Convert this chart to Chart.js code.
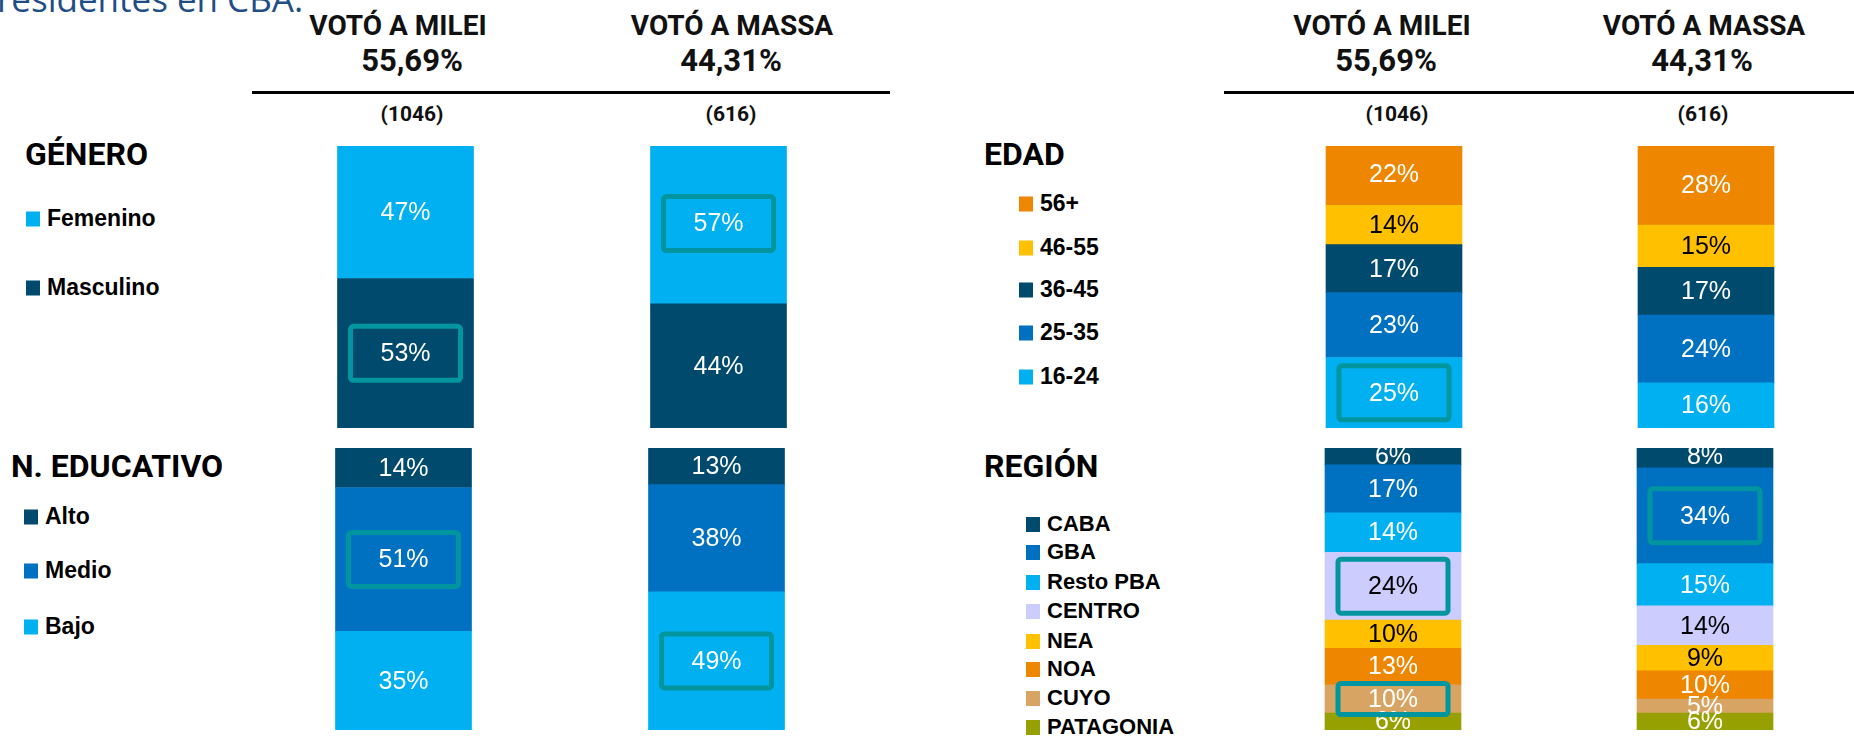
<!DOCTYPE html>
<html>
<head>
<meta charset="utf-8">
<script src="https://cdn.jsdelivr.net/npm/chart.js@4.4.0/dist/chart.umd.min.js"></script>
<style>
  body { margin: 0; background: #fff; }
  #page { position: relative; width: 1854px; height: 738px; overflow: hidden; background: #fff; font-family: "Liberation Sans", Arial, sans-serif; }
  canvas { position: absolute; }
  .t { position: absolute; white-space: nowrap; transform: translate(-50%, -50%); }
  .cand { font-family: Roboto, sans-serif; font-weight: 700; font-size: 28px; color: #111; }
  .num { font-family: Roboto, sans-serif; font-weight: 700; font-size: 31px; color: #111; }
  .n { font-family: Roboto, sans-serif; font-weight: 700; font-size: 21px; color: #111; }
  .sec { position: absolute; font-family: Roboto, sans-serif; font-weight: 700; font-size: 32px; color: #000; transform: translateY(-50%); white-space: nowrap; }
  .leg { position: absolute; font-weight: 700; font-size: 23px; color: #000; transform: translateY(-50%); white-space: nowrap; }
  .leg i { display: inline-block; width: 14px; height: 15px; margin-right: 7px; vertical-align: -1px; }
  .rule { position: absolute; height: 3px; background: #000; }
  #titulo { position: absolute; left: -3px; top: -25px; font-family: "Open Sans", sans-serif; font-size: 35px; color: #1f4e86; white-space: nowrap; }
</style>
</head>
<body>
<div id="page">
  <div id="titulo">residentes en CBA.</div>
</div>
<script>
// datos
const candidatos = ["VOTÓ A MILEI", "VOTÓ A MASSA"];
const totales = ["55,69%", "44,31%"];
const casos = ["(1046)", "(616)"];

const generoCats = ["Femenino", "Masculino"];
const generoMilei = [47, 53];
const generoMassa = [57, 44];

const educCats = ["Alto", "Medio", "Bajo"];
const educMilei = [14, 51, 35];
const educMassa = [13, 38, 49];

const edadCats = ["56+", "46-55", "36-45", "25-35", "16-24"];
const edadMilei = [22, 14, 17, 23, 25];
const edadMassa = [28, 15, 17, 24, 16];

const regionCats = ["CABA", "GBA", "Resto PBA", "CENTRO", "NEA", "NOA", "CUYO", "PATAGONIA"];
const regionMilei = [6, 17, 14, 24, 10, 13, 10, 6];
const regionMassa = [8, 34, 15, 14, 9, 10, 5, 6];

// segmentos marcados con recuadro: [categoria, candidato]
const generoMarca = [["Masculino", 0], ["Femenino", 1]];
const educMarca = [["Medio", 0], ["Bajo", 1]];
const edadMarca = [["16-24", 0]];
const regionMarca = [["CENTRO", 0], ["CUYO", 0], ["GBA", 1]];

// colores
const colores = {
  "Femenino": "#00b0f0", "Masculino": "#004a6e",
  "Alto": "#004a6e", "Medio": "#0070c0", "Bajo": "#00b0f0",
  "56+": "#ee8600", "46-55": "#ffc000", "36-45": "#004a6e", "25-35": "#0070c0", "16-24": "#00b0f0",
  "CABA": "#004a6e", "GBA": "#0070c0", "Resto PBA": "#00b0f0", "CENTRO": "#ccccff",
  "NEA": "#ffc000", "NOA": "#ee8600", "CUYO": "#d7a463", "PATAGONIA": "#96a000"
};
const textoOscuro = ["#ffc000", "#ccccff"];
const colorMarca = "#00959f";

const page = document.getElementById("page");

function addText(cls, txt, x, y) {
  const d = document.createElement("div");
  d.className = cls;
  d.textContent = txt;
  d.style.left = x + "px";
  d.style.top = y + "px";
  page.appendChild(d);
  return d;
}

// etiquetas y recuadros sobre las barras
const etiquetas = {
  id: "etiquetas",
  afterDatasetsDraw(chart) {
    const ctx = chart.ctx;
    const marcas = chart.options.plugins.etiquetas.marcas;
    ctx.save();
    chart.data.datasets.forEach((ds, i) => {
      const meta = chart.getDatasetMeta(i);
      meta.data.forEach((bar, j) => {
        const cy = (bar.y + bar.base) / 2;
        const esMarca = marcas.some(m => m[0] === ds.label && m[1] === j);
        if (esMarca) {
          const h = Math.min(59, Math.abs(bar.base - bar.y) + 8);
          const w = 115;
          ctx.strokeStyle = colorMarca;
          ctx.lineWidth = 5;
          ctx.beginPath();
          ctx.roundRect(bar.x - w / 2 + 2.5, cy - h / 2 + 2.5, w - 5, h - 5, 3);
          ctx.stroke();
        }
        ctx.fillStyle = textoOscuro.includes(ds.backgroundColor) ? "#000" : "#fff";
        ctx.font = "25px 'Liberation Sans', Arial, sans-serif";
        ctx.textAlign = "center";
        ctx.textBaseline = "middle";
        ctx.fillText(ds.data[j] + "%", bar.x, cy + 1);
      });
    });
    ctx.restore();
  }
};

function panel(cats, milei, massa, marcas, box) {
  const cv = document.createElement("canvas");
  cv.width = box.w; cv.height = box.h;
  cv.style.left = box.x + "px"; cv.style.top = box.y + "px";
  cv.style.width = box.w + "px"; cv.style.height = box.h + "px";
  page.appendChild(cv);
  // el primer dataset queda abajo
  const datasets = [];
  for (let k = cats.length - 1; k >= 0; k--) {
    datasets.push({
      label: cats[k],
      data: [milei[k], massa[k]],
      backgroundColor: colores[cats[k]],
      borderWidth: 0,
      barThickness: 136
    });
  }
  new Chart(cv.getContext("2d"), {
    type: "bar",
    data: { labels: candidatos, datasets: datasets },
    options: {
      responsive: false,
      animation: false,
      layout: { padding: 0 },
      plugins: { legend: { display: false }, tooltip: { enabled: false }, etiquetas: { marcas: marcas } },
      scales: {
        x: { stacked: true, display: false },
        y: { stacked: true, display: false, min: 0, max: 100 }
      }
    },
    plugins: [etiquetas]
  });
}

function leyenda(titulo, tx, ty, cats, lx, ys, size) {
  const s = document.createElement("div");
  s.className = "sec";
  s.textContent = titulo;
  s.style.left = tx + "px"; s.style.top = ty + "px";
  page.appendChild(s);
  cats.forEach((c, k) => {
    const d = document.createElement("div");
    d.className = "leg";
    d.style.left = lx + "px"; d.style.top = ys[k] + "px";
    d.style.fontSize = size + "px";
    d.innerHTML = '<i style="background:' + colores[c] + '"></i>' + c;
    page.appendChild(d);
  });
}

// encabezados
const rL = document.createElement("div"); rL.className = "rule";
rL.style.left = "252px"; rL.style.width = "638px"; rL.style.top = "91px"; page.appendChild(rL);
const rR = document.createElement("div"); rR.className = "rule";
rR.style.left = "1224px"; rR.style.width = "630px"; rR.style.top = "91px"; page.appendChild(rR);

[[398, 412, 412], [732, 731, 731], [1382, 1386, 1397], [1704, 1702, 1703]].forEach((p, k) => {
  const c = k % 2;
  addText("t cand", candidatos[c], p[0], 25);
  addText("t num", totales[c], p[1], 60);
  addText("t n", casos[c], p[2], 114);
});

leyenda("GÉNERO", 25, 154, generoCats, 26, [218, 287], 23);
leyenda("N. EDUCATIVO", 11, 466, educCats, 24, [516, 570, 626], 23);
leyenda("EDAD", 984, 154, edadCats, 1019, [203, 247, 289, 332, 376], 23);
leyenda("REGIÓN", 984, 466, regionCats, 1026, [524, 552, 582, 611, 641, 669, 698, 727], 22);

panel(generoCats, generoMilei, generoMassa, generoMarca, { x: 249, y: 146, w: 626, h: 282 });
panel(educCats, educMilei, educMassa, educMarca, { x: 247, y: 448, w: 626, h: 282 });
panel(edadCats, edadMilei, edadMassa, edadMarca, { x: 1238, y: 146, w: 624, h: 282 });
panel(regionCats, regionMilei, regionMassa, regionMarca, { x: 1237, y: 448, w: 624, h: 282 });
</script>
</body>
</html>
